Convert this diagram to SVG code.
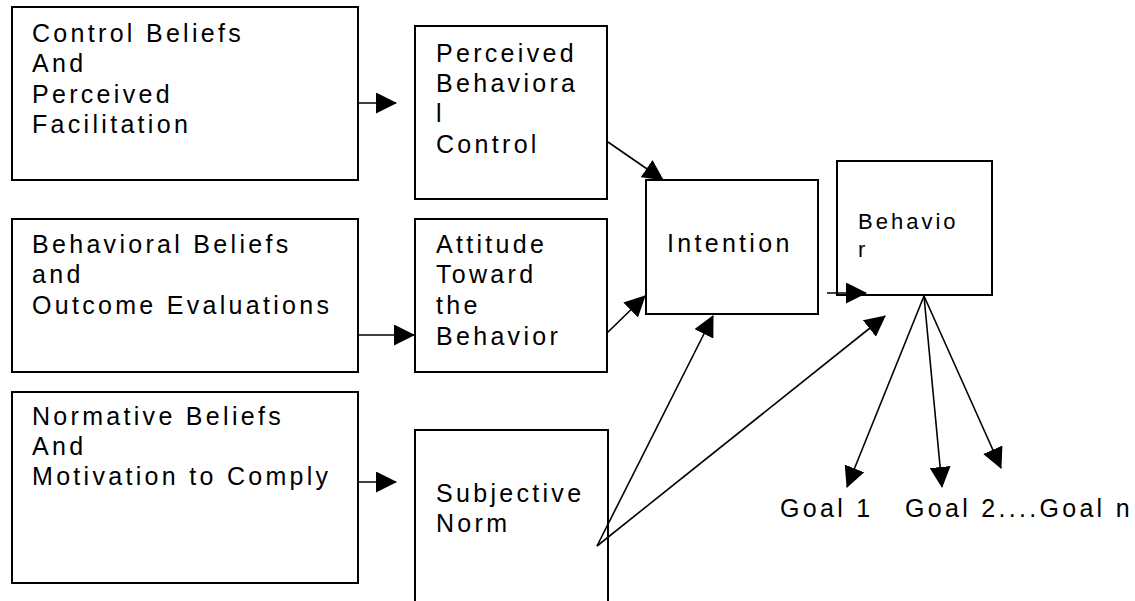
<svg xmlns="http://www.w3.org/2000/svg" width="1135" height="601" viewBox="0 0 1135 601">
<style>
.box{fill:#fff;stroke:#000;stroke-width:2}
.t{font-family:"Liberation Sans",Arial,sans-serif;font-size:25px;letter-spacing:3.3px;fill:#000}
.ts{font-family:"Liberation Sans",Arial,sans-serif;font-size:22px;letter-spacing:3px;fill:#000}
.c{fill:none;stroke:#000;stroke-width:1.6;marker-end:url(#ah)}
</style>
<defs>
<marker id="ah" markerUnits="userSpaceOnUse" markerWidth="21" markerHeight="21" refX="20" refY="10.5" orient="auto" viewBox="0 0 21 21">
<path d="M0,0 L21,10.5 L0,21 z" fill="#000"/>
</marker>
</defs>
<rect width="1135" height="601" fill="#fff"/>
<g id="cb">
<rect class="box" x="12" y="7" width="346" height="173"/>
<text class="t" x="32"><tspan x="32" y="42">Control Beliefs</tspan><tspan x="32" y="72">And</tspan><tspan x="32" y="103">Perceived</tspan><tspan x="32" y="133">Facilitation</tspan></text>
</g>
<g id="pbc">
<rect class="box" x="415" y="26" width="192" height="173"/>
<text class="t"><tspan x="436" y="62">Perceived</tspan><tspan x="436" y="92">Behaviora</tspan><tspan x="436" y="122">l</tspan><tspan x="436" y="153">Control</tspan></text>
</g>
<g id="bb">
<rect class="box" x="12" y="219" width="346" height="153"/>
<text class="t"><tspan x="32" y="253">Behavioral Beliefs</tspan><tspan x="32" y="283">and</tspan><tspan x="32" y="314">Outcome Evaluations</tspan></text>
</g>
<g id="atb">
<rect class="box" x="415" y="219" width="192" height="153"/>
<text class="t"><tspan x="436" y="253">Attitude</tspan><tspan x="436" y="283">Toward</tspan><tspan x="436" y="314">the</tspan><tspan x="436" y="345">Behavior</tspan></text>
</g>
<g id="nb">
<rect class="box" x="12" y="392" width="346" height="191"/>
<text class="t"><tspan x="32" y="425">Normative Beliefs</tspan><tspan x="32" y="455">And</tspan><tspan x="32" y="485">Motivation to Comply</tspan></text>
</g>
<g id="sn">
<rect class="box" x="415" y="430" width="193" height="190"/>
<text class="t"><tspan x="436" y="502">Subjective</tspan><tspan x="436" y="532">Norm</tspan></text>
</g>
<g id="intention">
<rect class="box" x="646" y="180" width="172" height="134"/>
<text class="t" x="667" y="252">Intention</text>
</g>
<g id="behavior">
<rect class="box" x="837" y="161" width="155" height="134"/>
<text class="ts"><tspan x="858" y="229">Behavio</tspan><tspan x="858" y="257">r</tspan></text>
</g>
<g id="goal1"><text class="t" x="780" y="517">Goal 1</text></g>
<g id="goal2"><text class="t" x="905" y="517">Goal 2....Goal n</text></g>
<g id="connectors">
<line class="c" x1="358" y1="103" x2="396" y2="103"/>
<line class="c" x1="358" y1="335" x2="414" y2="335"/>
<line class="c" x1="358" y1="482" x2="396" y2="482"/>
<line class="c" x1="608" y1="142" x2="663" y2="180"/>
<line class="c" x1="607" y1="333" x2="645" y2="296"/>
<line class="c" x1="597" y1="546" x2="713" y2="316"/>
<line class="c" x1="597" y1="546" x2="885" y2="316"/>
<line class="c" x1="827" y1="293" x2="866" y2="293"/>
<line class="c" x1="924" y1="296" x2="847" y2="487"/>
<line class="c" x1="924" y1="296" x2="942" y2="487"/>
<line class="c" x1="924" y1="296" x2="1001" y2="468"/>
</g>
</svg>
